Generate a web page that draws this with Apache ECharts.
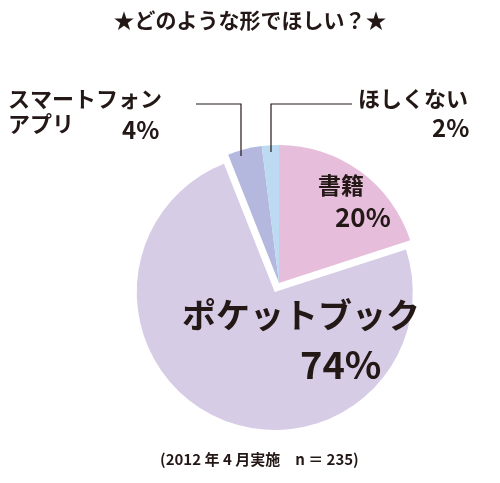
<!DOCTYPE html>
<html><head><meta charset="utf-8">
<script src="https://cdn.jsdelivr.net/npm/echarts@6/dist/echarts.min.js"></script>
<style>html,body{margin:0;background:#fff}#c{width:500px;height:483px}</style>
</head><body><div id="c"></div>
<script>
const categories = ['書籍','ポケットブック','スマートフォン\nアプリ','ほしくない'];
const values = [20,74,4,2];
const colors = ['#e6bedb','#d6cce6','#b4b8de','#bcdaf2'];
const F = '"Noto Sans CJK JP", sans-serif';
const chart = echarts.init(document.getElementById('c'));
const T = (x,y,t,size)=>({type:'text',z:100,left:x,top:y,style:{text:t,font:`bold ${size}px ${F}`,fill:'#231815'}});
chart.setOption({
  animation:false,
  series:[{type:'pie',z:1,center:[279,283],radius:[0,138],startAngle:90,clockwise:true,
    selectedMode:'single',selectedOffset:10,label:{show:false},labelLine:{show:false},
    emphasis:{disabled:true},
    data:categories.map((n,i)=>({name:n,value:values[i],selected:i===1,itemStyle:{color:colors[i]}}))}],
  graphic:{elements:[
    T('center',10,'★どのような形でほしい？★',21),
    T(318,174,categories[0],23),
    T(335,204,values[0]+'%',26),
    T(182,298,categories[1],34),
    T(300,346,values[1]+'%',38),
    T(8,88,'スマートフォン',22),
    T(8,113,'アプリ',22),
    T(122,118,values[2]+'%',24),
    T(358,88,categories[3],22),
    T(432,116,values[3]+'%',24),
    {type:'polyline',z:100,shape:{points:[[196,104],[241,104],[241,156]]},style:{stroke:'#231815',lineWidth:1.2,fill:null}},
    {type:'polyline',z:100,shape:{points:[[352,104],[271,104],[271,152]]},style:{stroke:'#231815',lineWidth:1.2,fill:null}},
    T(160,452,'(2012 年 4 月実施　n ＝ 235)',15)
  ]}
});
</script></body></html>
